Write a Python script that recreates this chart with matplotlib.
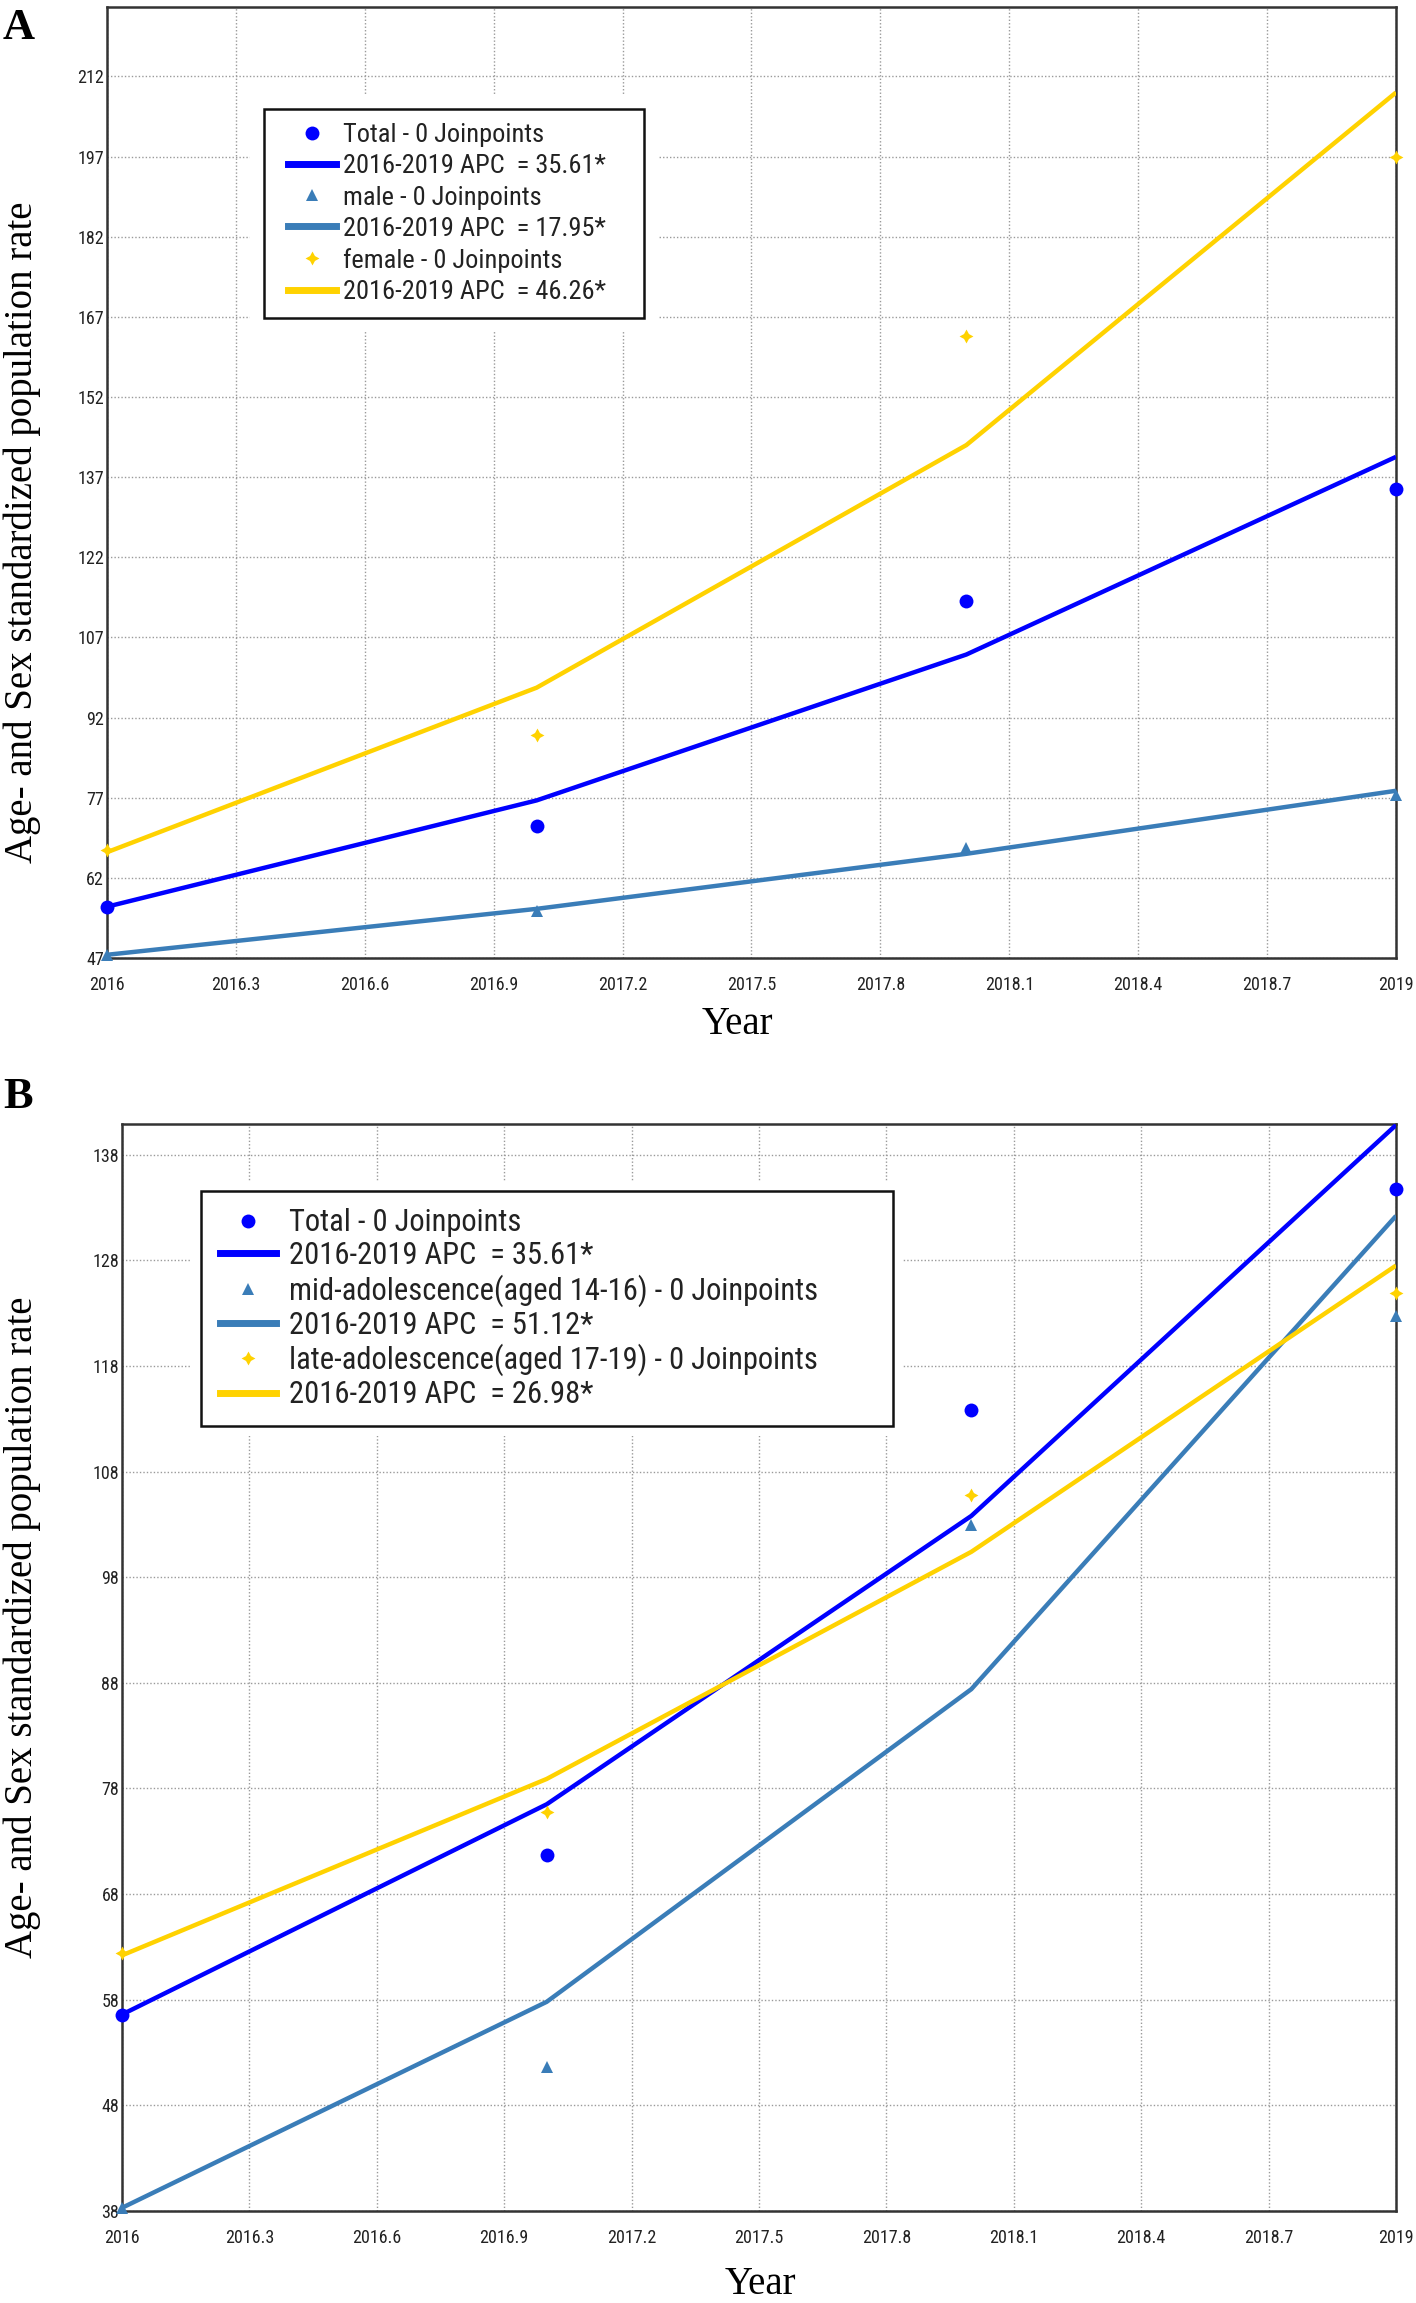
import matplotlib
matplotlib.use("Agg")
import matplotlib.pyplot as plt
import matplotlib.font_manager as fm
from matplotlib.patches import Rectangle
from matplotlib.lines import Line2D
from matplotlib.legend_handler import HandlerLine2D

# ---- data ---------------------------------------------------------------------
years = [2016, 2017, 2018, 2019]

total_obs = [56.6, 71.7, 113.8, 134.7]
total_fit = [56.6, 76.5, 103.8, 140.8]

male_obs = [47.6, 55.8, 67.6, 77.6]
male_fit = [47.6, 56.2, 66.5, 78.3]
female_obs = [67.3, 88.8, 163.5, 197.0]
female_fit = [66.8, 97.6, 143.0, 209.0]

mid_obs = [38.3, 51.6, 102.9, 122.7]
mid_fit = [38.3, 57.8, 87.4, 132.2]
late_obs = [62.4, 75.8, 105.8, 124.9]
late_fit = [62.2, 78.9, 100.4, 127.5]

x_ticks = [2016, 2016.3, 2016.6, 2016.9, 2017.2, 2017.5, 2017.8, 2018.1, 2018.4, 2018.7, 2019]
x_labels = ["2016", "2016.3", "2016.6", "2016.9", "2017.2", "2017.5", "2017.8",
            "2018.1", "2018.4", "2018.7", "2019"]
a_yticks = [47, 62, 77, 92, 107, 122, 137, 152, 167, 182, 197, 212]
b_yticks = [38, 48, 58, 68, 78, 88, 98, 108, 118, 128, 138]

a_labels = ["Total - 0 Joinpoints", "2016-2019 APC  = 35.61*",
            "male - 0 Joinpoints", "2016-2019 APC  = 17.95*",
            "female - 0 Joinpoints", "2016-2019 APC  = 46.26*"]
b_labels = ["Total - 0 Joinpoints", "2016-2019 APC  = 35.61*",
            "mid-adolescence(aged 14-16) - 0 Joinpoints", "2016-2019 APC  = 51.12*",
            "late-adolescence(aged 17-19) - 0 Joinpoints", "2016-2019 APC  = 26.98*"]

BLUE = "#0000ff"
STEEL = "#3a7db8"
GOLD = "#ffd200"
STAR = (4, 1, 0)  # 4-point star marker

# ---- fonts: narrow sans if we have one -----------------------------------------
names = {f.name for f in fm.fontManager.ttflist}
NARROW = next((n for n in ["Liberation Sans Narrow", "DejaVu Sans Condensed", "Roboto Condensed",
                           "Liberation Sans"] if n in names), "DejaVu Sans")
SERIF = "Liberation Serif" if "Liberation Serif" in names else "DejaVu Serif"

fig = plt.figure(figsize=(14.16, 23.03), dpi=100)
W, H = 1416, 2303


def panel(rect_px, series, ylim, yticks, labels, leg_anchor, leg_size, leg_opts):
    l, r, t, b = rect_px
    ax = fig.add_axes([l / W, 1 - b / H, (r - l) / W, (b - t) / H])
    handles = []
    for obs, fit, color, marker, ms in series:
        ax.plot(years, fit, color=color, lw=3.2, zorder=3, solid_capstyle="butt")
        ax.plot(years, obs, ls="none", marker=marker, color=color, ms=ms,
                markeredgewidth=0, zorder=4, clip_on=False)
        handles.append(Line2D([], [], ls="none", marker=marker, color=color, ms=ms, markeredgewidth=0))
        handles.append(Line2D([], [], color=color, lw=5))
    ax.set_xlim(2016, 2019)
    ax.set_ylim(*ylim)
    ax.set_xticks(x_ticks)
    ax.set_xticklabels(x_labels)
    ax.set_yticks(yticks)
    ax.set_yticklabels([str(v) for v in yticks])
    ax.tick_params(axis="both", length=0, labelsize=13, colors="#222222")
    ax.tick_params(axis="x", pad=13)
    ax.tick_params(axis="y", pad=2)
    for lab in ax.get_xticklabels() + ax.get_yticklabels():
        lab.set_family(NARROW)
    ax.grid(True, color="#9a9a9a", ls=(0, (1, 1.5)), lw=1.0)
    ax.set_axisbelow(True)
    for sp in ax.spines.values():
        sp.set_color("#333333")
        sp.set_linewidth(1.8)
    leg = ax.legend(handles, labels, loc="upper left", bbox_to_anchor=leg_anchor,
                    borderaxespad=0, frameon=True, fancybox=False, framealpha=1,
                    edgecolor="none", prop={"family": NARROW, "size": leg_size},
                    handlelength=leg_opts["hl"], handletextpad=leg_opts["htp"],
                    labelspacing=leg_opts["ls"], borderpad=0.55,
                    handler_map={Line2D: HandlerLine2D(xpad=leg_opts["xpad"])})
    leg.set_zorder(10)
    for txt in leg.get_texts():
        txt.set_color("#222222")
    return ax, leg, leg_opts


pa = panel((107, 1396, 7, 958),
           [(total_obs, total_fit, BLUE, "o", 10),
            (male_obs, male_fit, STEEL, "^", 9),
            (female_obs, female_fit, GOLD, STAR, 10)],
           (47, 225), a_yticks, a_labels, (0.122, 0.893), 19,
           {"hl": 2.15, "htp": 0.27, "ls": 0.27, "xpad": 0.35, "gap": 14, "extra": 24})
pb = panel((122, 1396, 1124, 2211),
           [(total_obs, total_fit, BLUE, "o", 10),
            (mid_obs, mid_fit, STEEL, "^", 9),
            (late_obs, late_fit, GOLD, STAR, 10)],
           (38, 140.9), b_yticks, b_labels, (0.062, 0.938), 22,
           {"hl": 1.9, "htp": 0.43, "ls": 0.13, "xpad": 0.07, "gap": 10, "extra": 58})

# legend border (wider on the right, like the original) and a white margin hiding the grid
fig.canvas.draw()
for ax, leg, opts in (pa, pb):
    bb = leg.get_window_extent()
    gap, extra = opts["gap"], opts["extra"]
    ax.add_artist(Rectangle((bb.x0 - gap, bb.y0 - gap), bb.width + extra + 2 * gap, bb.height + 2 * gap,
                            transform=None, facecolor="white", edgecolor="none", zorder=1.5))
    ax.add_artist(Rectangle((bb.x0, bb.y0), bb.width + extra, bb.height, transform=None,
                            facecolor="none", edgecolor="#111111", lw=1.8, zorder=11))

# panel letters, axis titles
fig.text(3 / W, 1 - 8 / H, "A", family=SERIF, weight="bold", fontsize=32, va="top", ha="left")
fig.text(3 / W, 1 - 1077 / H, "B", family=SERIF, weight="bold", fontsize=32, va="top", ha="left")
ylab = "Age- and Sex standardized population rate"
fig.text(22 / W, 1 - 532 / H, ylab, family=SERIF, fontsize=28, rotation=90, ha="center", va="center")
fig.text(22 / W, 1 - 1627 / H, ylab, family=SERIF, fontsize=28, rotation=90, ha="center", va="center")
fig.text(737 / W, 1 - 1024 / H, "Year", family=SERIF, fontsize=28, ha="center", va="center")
fig.text(760 / W, 1 - 2284 / H, "Year", family=SERIF, fontsize=28, ha="center", va="center")

fig.savefig("out.png", dpi=100)
